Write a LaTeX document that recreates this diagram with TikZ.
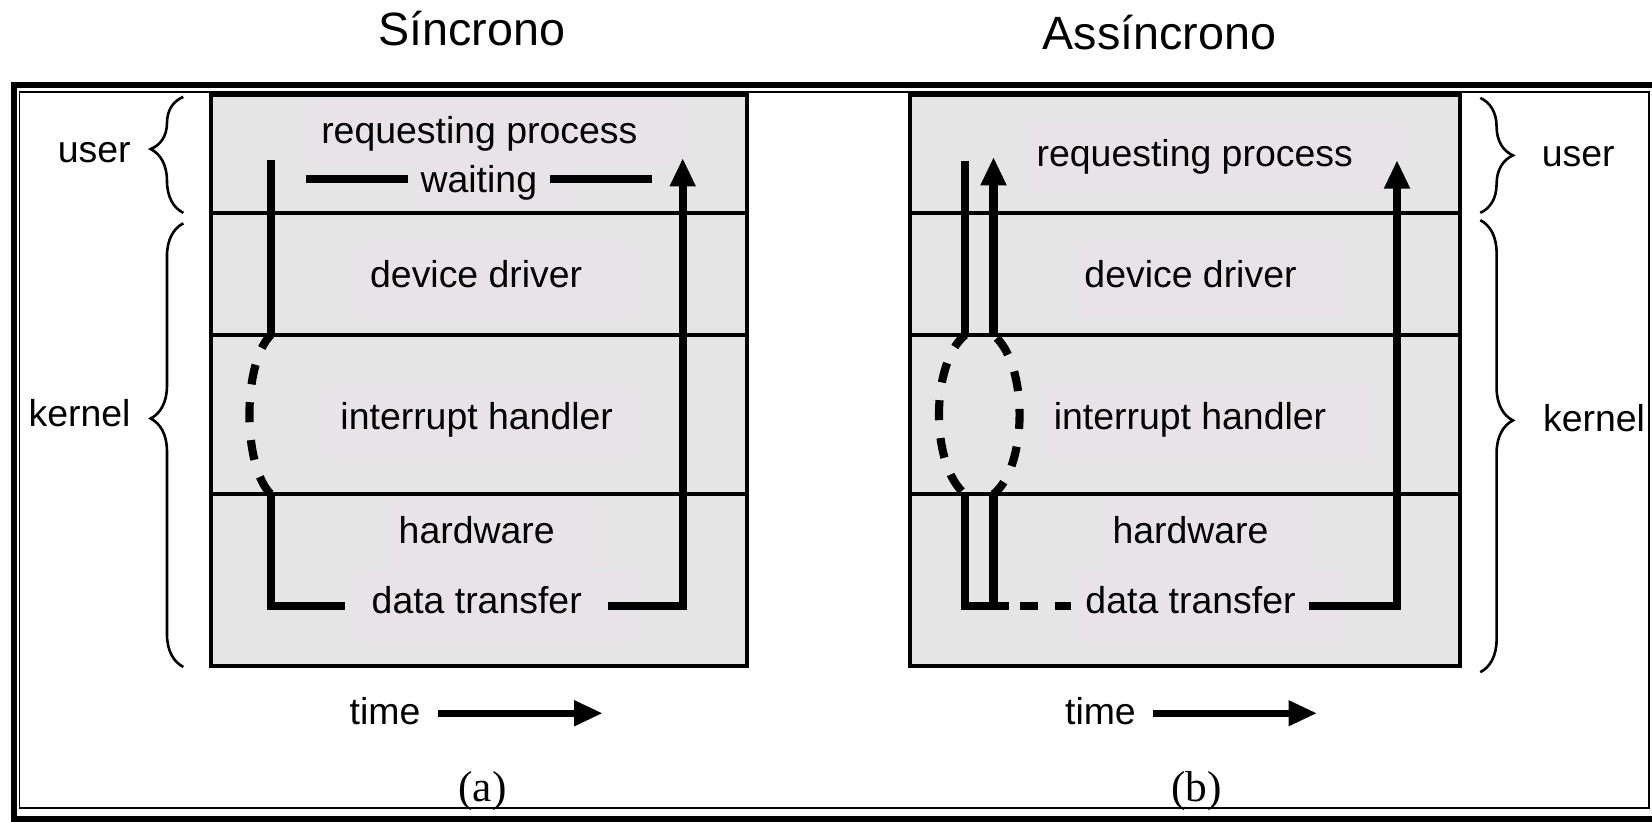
\documentclass[tikz,border=0pt]{standalone}
\usepackage{fontspec}
\setmainfont{Liberation Sans}
\newfontfamily\capserif{Liberation Serif}
\usetikzlibrary{arrows.meta,decorations.pathreplacing}
\definecolor{boxgray}{RGB}{229,229,229}
\definecolor{lblpink}{RGB}{232,227,231}

\begin{document}
\begin{tikzpicture}[x=0.01cm,y=-0.01cm,
every node/.style={anchor=base,inner sep=0pt,font=\fontsize{10.1}{12}\selectfont},
heading/.style={font=\fontsize{12.6}{15}\selectfont},
sublabel/.style={font=\capserif\fontsize{11.7}{14}\selectfont},
layer/.style={line width=1pt},
flow/.style={line width=2.2pt},
dflow/.style={line width=2.2pt,dash pattern=on 0.19cm off 0.17cm,dash phase=0.04cm},
arr/.style={-{Triangle[length=0.27cm,width=0.23cm]}},
brc/.style={decorate,decoration={brace,amplitude=0.31cm,aspect=#1},line width=0.7pt},
brc/.default=0.5]
\useasboundingbox (0,0) rectangle (1568,780);

%double frame round both pictures
\draw[line width=1.7pt] (13,80.5) rectangle (1572,777.5);
\draw[line width=0.4pt] (18.5,87.5) rectangle (1565,767);

%the two layer boxes
\draw[layer,fill=boxgray] (200,90) rectangle (709,632);
\draw[layer,fill=boxgray] (864,90) rectangle (1386,632);
%light patches behind the texts
\foreach \x/\y/\u/\v in {296/93/645/157, 392/157/549/199, 344/233/598/300, 313/365/598/435, 370/475/566/541, 344/541/599/609,
	975/117/1326/183, 1022/233/1277/301, 992/365/1302/435, 1048/475/1244/541, 1022/541/1277/609}
	\fill[lblpink] (\x,\y) rectangle (\u,\v);
%lines between the layers
\def\rows{202,318,469}
\foreach \r in \rows{
	\draw[layer] (200,\r) -- (709,\r);
	\draw[layer] (864,\r) -- (1386,\r);
}

\node[heading] (ts) at (448,43) {Síncrono};
\node[heading] (tas) at (1100.5,47) {Assíncrono};

\node (a1) at (455,136) {requesting process};
\node (a2) at (454.5,183) {waiting};
\node (a3) at (452,273) {device driver};
\node (a4) at (452.5,408) {interrupt handler};
\node (a5) at (452.5,516) {hardware};
\node (a6) at (452.5,582) {data transfer};

\node (b1) at (1134,158) {requesting process};
\node (b3) at (1130,273) {device driver};
\node (b4) at (1129.5,408) {interrupt handler};
\node (b5) at (1130,516) {hardware};
\node (b6) at (1130,582) {data transfer};

\node (ua) at (89.5,154) {user};
\node (ka) at (75.5,405) {kernel};
\node (ub) at (1498,158) {user};
\node (kb) at (1513,410) {kernel};

%braces for the user and kernel parts
\draw[brc=0.55] (174,202) -- (174,92);
\draw[brc=0.56] (174,633) -- (174,212);
\draw[brc] (1405,93) -- (1405,202);
\draw[brc=0.443] (1405,209) -- (1405,638);

%synchronous path
\coordinate (cs) at (257,152);
\coordinate (ci) at (257,318);
\coordinate (ch) at (257,469);
\coordinate (cb) at (257,575);
\coordinate (cl) at (327,575);
\coordinate (cr) at (577,575);
\coordinate (cc) at (648,575);
\coordinate (ce) at (648,150);
\coordinate (w1) at (290,170);
\coordinate (w2) at (387,170);
\coordinate (w3) at (522,170);
\coordinate (w4) at (619,170);
\draw[flow] (cs) -- (ci);
\draw[dflow] (ci) .. controls +(-27,27) and +(-27,-27) .. (ch);
\draw[flow] (ch) -- (cb) -- (cl);
\draw[flow,arr] (cr) -- (cc) -- (ce);
\draw[flow] (w1) -- (w2);
\draw[flow] (w3) -- (w4);

%asynchronous path
\coordinate (ds) at (916,153);
\coordinate (di) at (916,318);
\coordinate (dh) at (916,469);
\coordinate (db) at (916,575);
\coordinate (dl) at (958,575);
\coordinate (es) at (943,575);
\coordinate (eh) at (943,469);
\coordinate (ei) at (943,318);
\coordinate (ee) at (943,149);
\coordinate (d1) at (968,575);
\coordinate (d2) at (1017,575);
\coordinate (dr) at (1242,575);
\coordinate (dc) at (1326,575);
\coordinate (de) at (1326,152);
\draw[flow] (ds) -- (di);
\draw[dflow] (di) .. controls +(-33,27) and +(-33,-27) .. (dh);
\draw[flow] (dh) -- (db) -- (dl);
\draw[flow] (es) -- (eh);
\draw[dflow] (eh) .. controls +(33,-27) and +(33,27) .. (ei);
\draw[flow,arr] (ei) -- (ee);
\draw[flow,dash pattern=on 0.17cm off 0.16cm] (d1) -- (d2);
\draw[flow,arr] (dr) -- (dc) -- (de);

%time axes
\node (tma) at (365.5,688) {time};
\node (tmb) at (1044.5,688) {time};
\coordinate (t1) at (416,677);
\coordinate (t2) at (572,677);
\coordinate (t3) at (1094,677);
\coordinate (t4) at (1250,677);
\draw[line width=1.8pt,arr] (t1) -- (t2);
\draw[line width=1.8pt,arr] (t3) -- (t4);

\node[sublabel] (la) at (458,761) {(a)};
\node[sublabel] (lb) at (1135.5,761) {(b)};

\end{tikzpicture}
\end{document}
